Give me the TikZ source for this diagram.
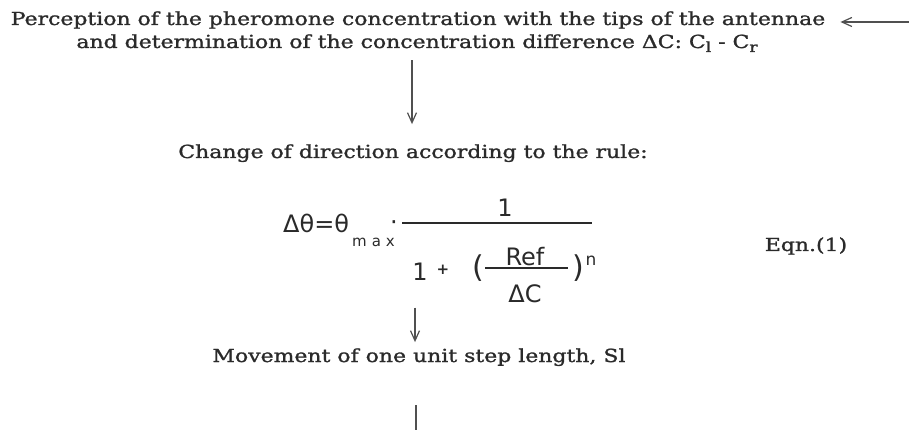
\documentclass[tikz,border=0pt]{standalone}
\usepackage{fontspec}
\setmainfont{DejaVu Serif}[FakeStretch=1.22,FakeBold=1.3]
\newfontfamily\eqfont{DejaVu Sans}
\newfontfamily\subfont{DejaVu Sans}[LetterSpace=33]
\usetikzlibrary{arrows.meta}
\definecolor{ink}{HTML}{2A2A2A}
\definecolor{wire}{HTML}{505050}

\begin{document}
\begin{tikzpicture}[x=1pt,y=-1pt,  % 1 unit = 1 px, y runs down
  txt/.style={font=\fontsize{18}{23}\selectfont,text=ink,inner sep=0pt},
  eq/.style={font=\eqfont\fontsize{24}{24}\selectfont,text=ink,inner sep=0pt},
  bar/.style={draw=ink,line width=1.1pt},
  flow/.style={draw=wire,line width=1.2pt,-{Straight Barb[length=10pt,width=9pt]}}]
  \useasboundingbox (0,0) rectangle (909,430);
  \coordinate (axis) at (412,0);
  \coordinate (axisb) at (415,0);
  % ---- perception
  \node[txt,anchor=base] (percep) at (418,25)
    {Perception of the pheromone concentration with the tips of the antennae};
  \node[txt,anchor=base] (diff) at (417,48)
    {and determination of the concentration difference ΔC: C\raisebox{-4pt}{\fontsize{14}{14}\selectfont l} - C\raisebox{-4pt}{\fontsize{14}{14}\selectfont r}};
  \coordinate (fb) at (909,22);
  \draw[flow,shorten >=15pt] (fb) -- (percep.east |- fb);
  % ---- turning rule
  \node[txt,anchor=base] (rule) at (413,158) {Change of direction according to the rule:};
  \draw[flow,shorten <=8pt,shorten >=20pt] (diff.south -| axis) -- (rule.north -| axis);
  \node[eq,anchor=base west] (lhs) at (283,233) {Δθ=θ};
  \node[eq,anchor=base west,font=\subfont\fontsize{15}{15}\selectfont] (max) at (352,246) {max};
  \node[eq] (dot) at (394,226) {·};
  \node[eq,anchor=base] (num) at (505,217) {1};
  \draw[bar] (402,223) -- (592,223);
  \node[eq,anchor=base] (den) at (420,280) {1};
  \node[eq,font=\eqfont\bfseries\fontsize{15}{15}\selectfont] (plus) at (443,270) {+};
  \node[eq,font=\eqfont\fontsize{30}{30}\selectfont] (lpar) at (478,268) {(};
  \node[eq,anchor=base] (ref) at (525,265) {Ref};
  \draw[bar] (485,268) -- (568,268);
  \node[eq,anchor=base] (dc) at (525,302) {ΔC};
  \node[eq,font=\eqfont\fontsize{30}{30}\selectfont] (rpar) at (578,268) {)};
  \node[eq,anchor=base,font=\eqfont\fontsize{17}{17}\selectfont] (pow) at (591,265) {n};
  \node[txt,anchor=base] (eqn) at (806,251) {Eqn.(1)};
  % ---- step
  \node[txt,anchor=base] (move) at (419,362) {Movement of one unit step length, Sl};
  \draw[flow,shorten <=5pt,shorten >=6pt] (dc.south -| axisb) -- (move.north -| axisb);
  \coordinate (next) at (416,430);
  \draw[wire,line width=1.2pt,shorten <=39pt] (move.south -| next) -- (next);
\end{tikzpicture}
\end{document}
